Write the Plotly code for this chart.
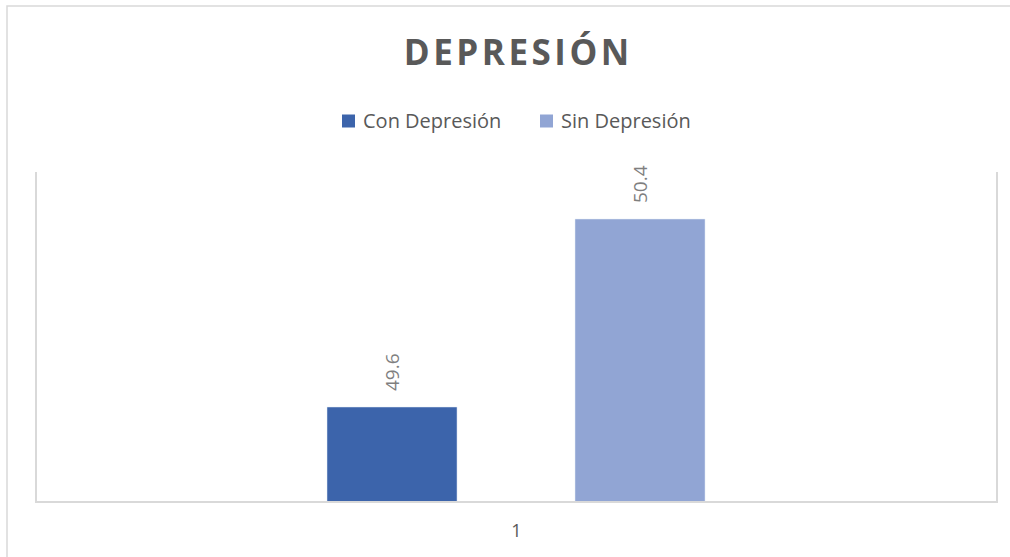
import plotly.graph_objects as go

categories = ["1"]
series_names = ["Con Depresión", "Sin Depresión"]
series_values = [[49.6], [50.4]]
series_colors = ["#3C64AB", "#91A5D4"]
bar_offsets = [-0.1976, 0.061]
bar_width = 0.1356
title_text = "DEPRESIÓN"
legend_x_px = [342, 540]  # left edge of each legend swatch (px)

W, H = 1010, 557
ml, mr, mt, mb = 37, 14, 172, 56
pw, ph = W - ml - mr, H - mt - mb


def px_x(x):
    return (x - ml) / pw


def px_y(y):
    return (mt + ph - y) / ph


fig = go.Figure()
for name, vals, col, off in zip(series_names, series_values, series_colors, bar_offsets):
    fig.add_trace(go.Bar(
        x=categories, y=vals, name=name, marker_color=col,
        offset=off, width=bar_width, cliponaxis=False, showlegend=False,
    ))
    for c, v in zip(categories, vals):
        fig.add_annotation(
            x=categories.index(c) + off + bar_width / 2, y=v, xref="x", yref="y",
            text=f"{v:.1f}", textangle=-90, showarrow=False,
            yanchor="bottom", xanchor="center", yshift=14,
            font=dict(family="Open Sans", size=19, color="#7F7F7F"),
        )

# custom legend
for name, col, lx in zip(series_names, series_colors, legend_x_px):
    fig.add_shape(type="rect", xref="paper", yref="paper",
                  x0=px_x(lx), x1=px_x(lx + 13), y0=px_y(127.5), y1=px_y(114.5),
                  fillcolor=col, line=dict(width=0))
    fig.add_annotation(xref="paper", yref="paper", x=px_x(lx + 19), y=px_y(121),
                       xanchor="left", yanchor="middle", showarrow=False, text=name,
                       font=dict(family="Open Sans", size=20, color="#595959"))

# outer chart border
fig.add_shape(type="rect", xref="paper", yref="paper",
              x0=px_x(7), x1=px_x(1016), y0=px_y(H + 5), y1=px_y(6),
              line=dict(color="#D9D9D9", width=1.5), layer="below")

spaced_title = "\u200a".join(title_text)

fig.update_layout(
    width=W, height=H,
    margin=dict(l=ml, r=mr, t=mt, b=mb),
    paper_bgcolor="white", plot_bgcolor="white",
    barmode="overlay",
    title=dict(text=f"<b>{spaced_title}</b>", x=0.5, xref="paper", xanchor="center",
               y=1 - 53 / H, yref="container", yanchor="middle",
               font=dict(family="Open Sans", size=35, color="#595959")),
    xaxis=dict(type="category", showline=True, linecolor="#D9D9D9", linewidth=2,
               showgrid=False, ticks="", ticklabelstandoff=12,
               tickfont=dict(family="Open Sans", size=18, color="#595959"),
               range=[-0.5, 0.5]),
    yaxis=dict(range=[49.2, 50.6], showline=True, mirror=True, linecolor="#D9D9D9", linewidth=2,
               showgrid=False, showticklabels=False, ticks="", zeroline=False),
)

fig.write_html("out.html", config={"displayModeBar": False},
               post_script="document.body.style.margin='0';")
